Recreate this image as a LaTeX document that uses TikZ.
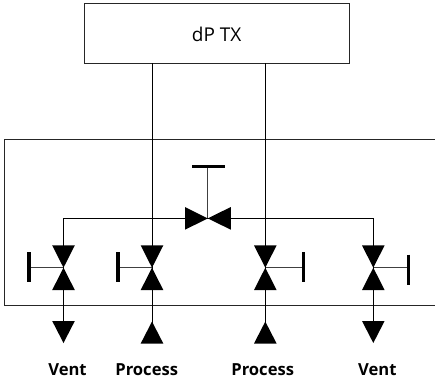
\documentclass[tikz,border=0pt]{standalone}
\usepackage{fontspec}
\setmainfont{Open Sans}
\tikzset{
  x=1pt,y=-1pt,
  pipe/.style={draw=black,line width=0.9pt},
  frame/.style={draw=black!85,line width=0.9pt},
  tri/.style={fill=black,draw=none},
  bar/.style={draw=black,line width=3.4pt},
  stem/.style={draw=black!75,line width=0.9pt},
  lab/.style={inner sep=0pt,font=\fontsize{16.6}{18}\selectfont\bfseries},
  box/.style={draw=black!85,line width=0.9pt,minimum width=264.5pt,minimum height=59.5pt,inner sep=0pt},
  boxtext/.style={inner sep=0pt,font=\fontsize{19}{21}\selectfont},
  dot/.style={inner sep=0pt,minimum size=0pt},
}
% #1 = centre x, #2 = centre y
\newcommand{\vtri}[2]{\fill[tri] (#1-11.3,#2-22.3) -- (#1+11.3,#2-22.3) -- (#1,#2) -- (#1+11.3,#2+22.3) -- (#1-11.3,#2+22.3) -- (#1,#2) -- cycle;}
\begin{document}
\begin{tikzpicture}
\useasboundingbox (0,0) rectangle (435,383);
\fill[white] (0,0) rectangle (435,383);
% enclosure
\draw[frame] (435,139.5) -- (4.7,139.5) -- (4.7,305) -- (435,305);
% transmitter
\node[box] (tx) at (216.8,33.2) {};
\node[boxtext] (txl) at (216.7,34.7) {dP TX};
% valves
\node[dot] (v1) at (63.5,267.7) {};
\node[dot] (v2) at (152,267.7) {};
\node[dot] (v3) at (265.3,267.7) {};
\node[dot] (v4) at (373.3,267.7) {};
\node[dot] (vc) at (207.8,218.4) {};
% free ends
\coordinate (tl) at (152,63);
\coordinate (tr) at (265.3,63);
\coordinate (a1) at (63.5,325);
\coordinate (a2) at (152,325);
\coordinate (a3) at (265.3,325);
\coordinate (a4) at (373.3,325);
\coordinate (hl) at (63.5,218.4);
\coordinate (hr) at (373.3,218.4);
% pipes
\draw[pipe] (tl) -- (v2);
\draw[pipe] (tr) -- (v3);
\draw[pipe] (v1) -- (hl) -- (vc) -- (hr) -- (v4);
\draw[pipe] (v1) -- (a1);
\draw[pipe] (v2) -- (a2);
\draw[pipe] (v3) -- (a3);
\draw[pipe] (v4) -- (a4);
% handles
\coordinate (h1) at (29,267.7);
\coordinate (h2) at (118,267.7);
\coordinate (h3) at (303.3,267.7);
\coordinate (h4) at (408.3,267.7);
\coordinate (hc) at (207.8,166.4);
\draw[stem] (v1) -- (h1);
\draw[stem] (v2) -- (h2);
\draw[stem] (v3) -- (h3);
\draw[stem] (v4) -- (h4);
\draw[stem] (vc) -- (hc);
\draw[bar] (29,252.2) -- (29,282.2);
\draw[bar] (118,252.2) -- (118,282.2);
\draw[bar] (303.3,252.2) -- (303.3,282.2);
\draw[bar] (408.3,254.5) -- (408.3,284.5);
\draw[bar] (192.3,166.4) -- (225,166.4);
% valve bodies
\vtri{63.5}{267.7}
\vtri{152}{267.7}
\vtri{265.3}{267.7}
\vtri{373.3}{267.7}
\fill[tri] (185,207) -- (185,229.7) -- (207.8,218.4) -- (230.8,229.7) -- (230.8,207) -- (207.8,218.4) -- cycle;
% end arrows
\fill[tri] (52.2,321) -- (74.8,321) -- (63.5,343) -- cycle;
\fill[tri] (140.7,343.5) -- (163.3,343.5) -- (152,321.5) -- cycle;
\fill[tri] (254,343.5) -- (276.6,343.5) -- (265.3,321.5) -- cycle;
\fill[tri] (362,321) -- (384.6,321) -- (373.3,343) -- cycle;
% labels
\node[lab] (l1) at (67.5,369.8) {Vent};
\node[lab] (l2) at (146.7,369.8) {Process};
\node[lab] (l3) at (262.7,369.8) {Process};
\node[lab] (l4) at (377.3,369.8) {Vent};
\end{tikzpicture}
\end{document}
